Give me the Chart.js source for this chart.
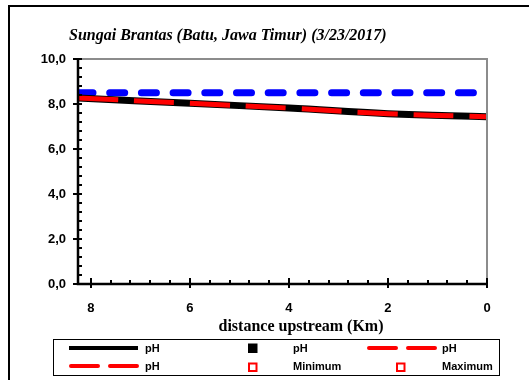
<!DOCTYPE html>
<html>
<head>
<meta charset="utf-8">
<script src="https://cdn.jsdelivr.net/npm/chart.js@4/dist/chart.umd.min.js"></script>
<style>
  html, body { margin: 0; padding: 0; background: #fff; }
  #wrap { width: 529px; height: 380px; position: relative; }
</style>
</head>
<body>
<div id="wrap"><canvas id="c" width="529" height="380"></canvas></div>
<script>
// Sungai Brantas, Batu (Jawa Timur) – pH profile along the river, 3/23/2017
const titleText = 'Sungai Brantas (Batu, Jawa Timur) (3/23/2017)';
const xAxisTitle = 'distance upstream (Km)';

// distance upstream (km) and measured pH
const distanceKm = [8.26, 6, 4, 2, 0];
const phValues   = [8.27, 8.03, 7.82, 7.57, 7.43];

// upper quality limit for pH
const limitDistanceKm = [8.26, 0];
const phUpperLimit    = [8.5, 8.5];

// axis ticks
const xTickValues = [8, 6, 4, 2, 0];
const yTickValues = [0, 2, 4, 6, 8, 10];

// legend entries
const legendLabels = ['pH', 'pH', 'pH', 'pH', 'Minimum', 'Maximum'];

const toPoints = (xs, ys) => xs.map((x, i) => ({ x: x, y: ys[i] }));

const decorations = {
  id: 'decorations',
  beforeDraw(chart) {
    const ctx = chart.ctx;
    ctx.save();
    ctx.fillStyle = '#fff';
    ctx.fillRect(0, 0, chart.width, chart.height);
    // outer frame
    ctx.strokeStyle = '#000';
    ctx.lineWidth = 2;
    ctx.beginPath();
    ctx.moveTo(9, chart.height + 2);
    ctx.lineTo(9, 6);
    ctx.lineTo(chart.width + 2, 6);
    ctx.stroke();
    ctx.restore();
  },
  afterDraw(chart) {
    const ctx = chart.ctx;
    const a = chart.chartArea;
    const xs = chart.scales.x, ys = chart.scales.y;
    ctx.save();

    // plot frame: grey top/right, black axes
    ctx.lineCap = 'butt';
    ctx.strokeStyle = '#8c8c8c';
    ctx.lineWidth = 2;
    ctx.beginPath();
    ctx.moveTo(a.left, a.top);
    ctx.lineTo(a.right, a.top);
    ctx.lineTo(a.right, a.bottom);
    ctx.stroke();

    ctx.strokeStyle = '#000';
    ctx.lineWidth = 2.5;
    ctx.beginPath();
    ctx.moveTo(a.left, a.top - 1);
    ctx.lineTo(a.left, a.bottom);
    ctx.lineTo(a.right + 1, a.bottom);
    ctx.stroke();

    // y ticks: major cross the axis, minor point inward
    ctx.lineWidth = 2;
    ctx.beginPath();
    for (let v = 0; v <= 10.0001; v += 0.4) {
      const py = Math.round(ys.getPixelForValue(v));
      const major = Math.abs(v / 2 - Math.round(v / 2)) < 1e-6;
      if (major) { ctx.moveTo(a.left - 5, py); ctx.lineTo(a.left + 4, py); }
      else { ctx.moveTo(a.left, py); ctx.lineTo(a.left + 4, py); }
    }
    // x ticks
    for (let v = 0; v <= xs.max + 1e-6; v += 0.4) {
      const px = Math.round(xs.getPixelForValue(v));
      const major = Math.abs(v / 2 - Math.round(v / 2)) < 1e-6;
      if (major) { ctx.moveTo(px, a.bottom - 6); ctx.lineTo(px, a.bottom + 4); }
      else { ctx.moveTo(px, a.bottom - 4); ctx.lineTo(px, a.bottom); }
    }
    ctx.stroke();

    // title
    ctx.fillStyle = '#000';
    ctx.textBaseline = 'alphabetic';
    ctx.textAlign = 'left';
    ctx.font = 'italic bold 16px "Liberation Serif", "Times New Roman", serif';
    ctx.fillText(titleText, 69, 40);

    // x axis title
    ctx.textAlign = 'center';
    ctx.font = 'bold 16px "Liberation Serif", "Times New Roman", serif';
    ctx.fillText(xAxisTitle, 301, 331);

    // legend box
    ctx.strokeStyle = '#000';
    ctx.lineWidth = 1;
    ctx.strokeRect(53.5, 339.5, 446, 36);

    const rowY = [348, 366];
    const colMark = [69, 248, 367];
    const colText = [145, 293, 442];

    const lineSample = (x, y, color, dashed) => {
      ctx.save();
      ctx.strokeStyle = color;
      ctx.lineWidth = 4;
      ctx.lineCap = dashed ? 'round' : 'butt';
      ctx.setLineDash(dashed ? [27, 12] : []);
      ctx.beginPath();
      ctx.moveTo(x + (dashed ? 2 : 0), y);
      ctx.lineTo(x + 69, y);
      ctx.stroke();
      ctx.restore();
    };
    const square = (x, y, filled) => {
      if (filled) {
        ctx.fillStyle = '#000';
        ctx.fillRect(x, y - 4.5, 9.5, 9.5);
      } else {
        ctx.strokeStyle = '#ff0000';
        ctx.lineWidth = 2;
        ctx.strokeRect(x + 1, y - 3.5, 7.5, 7.5);
      }
    };

    lineSample(colMark[0], rowY[0], '#000', false);
    square(colMark[1], rowY[0], true);
    lineSample(colMark[2], rowY[0], '#ff0000', true);
    lineSample(colMark[0], rowY[1], '#ff0000', true);
    square(colMark[1], rowY[1] + 1, false);
    square(396, rowY[1] + 1, false);

    ctx.fillStyle = '#000';
    ctx.textAlign = 'left';
    ctx.font = 'bold 11px "Liberation Sans", Arial, sans-serif';
    legendLabels.forEach((t, i) => {
      const r = Math.floor(i / 3), col = i % 3;
      ctx.fillText(t, colText[col], rowY[r] + 4);
    });

    ctx.restore();
  }
};

new Chart(document.getElementById('c'), {
  type: 'line',
  data: {
    datasets: [
      {
        label: 'pH',
        data: toPoints(distanceKm, phValues),
        borderColor: '#ff0000',
        borderWidth: 5,
        borderDash: [40, 16],
        borderCapStyle: 'butt',
        tension: 0.4,
        pointRadius: 0,
        fill: false
      },
      {
        label: 'pH',
        data: toPoints(distanceKm, phValues),
        borderColor: '#000',
        borderWidth: 7,
        tension: 0.4,
        pointRadius: 0,
        fill: false
      },
      {
        label: 'Maximum',
        data: toPoints(limitDistanceKm, phUpperLimit),
        borderColor: '#0000ff',
        borderWidth: 7,
        borderDash: [15, 16.7],
        borderCapStyle: 'round',
        pointRadius: 0,
        fill: false
      }
    ]
  },
  options: {
    responsive: false,
    animation: false,
    layout: { padding: { top: 59, right: 42, left: 0, bottom: 0 } },
    plugins: {
      legend: { display: false },
      title: { display: false },
      tooltip: { enabled: false }
    },
    scales: {
      x: {
        type: 'linear',
        reverse: true,
        min: 0,
        max: 8.26,
        afterBuildTicks: s => { s.ticks = xTickValues.map(v => ({ value: v })); },
        afterFit: s => { s.height = 96; },
        grid: { display: false, drawTicks: false },
        border: { display: false },
        ticks: {
          padding: 17,
          color: '#000',
          font: { family: '"Liberation Sans", Arial, sans-serif', size: 13, weight: 'bold' },
          callback: v => String(v),
          maxRotation: 0
        }
      },
      y: {
        min: 0,
        max: 10,
        afterBuildTicks: s => { s.ticks = yTickValues.map(v => ({ value: v })); },
        afterFit: s => { s.width = 78; },
        grid: { display: false, drawTicks: false },
        border: { display: false },
        ticks: {
          padding: 12,
          color: '#000',
          font: { family: '"Liberation Sans", Arial, sans-serif', size: 13, weight: 'bold' },
          callback: v => Number(v).toFixed(1).replace('.', ',')
        }
      }
    }
  },
  plugins: [decorations]
});
</script>
</body>
</html>
